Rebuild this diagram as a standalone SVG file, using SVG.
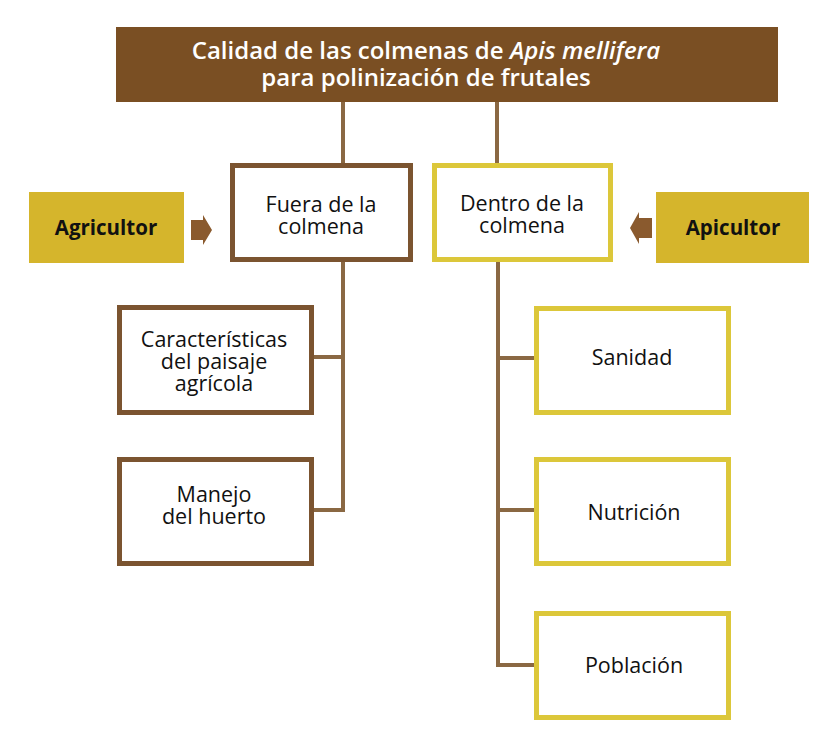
<svg xmlns="http://www.w3.org/2000/svg" width="837" height="749" viewBox="0 0 837 749">
<style>
.t{font-family:"Open Sans","Noto Sans","Liberation Sans",sans-serif;text-anchor:middle;fill:#111;font-size:21.5px;font-weight:500}
.b{font-size:20.5px;font-weight:700}
.bt{font-family:"Open Sans","Noto Sans","Liberation Sans",sans-serif;text-anchor:middle;fill:#fff;font-weight:600;font-size:24px}
.br{fill:#fff;stroke:#7b5430;stroke-width:5}
.yl{fill:#fff;stroke:#dcc73a;stroke-width:5}
.ag{fill:#d5b52c}
.c{fill:none;stroke:#8a6843;stroke-width:4}
.ar{fill:#8a5a2e}
</style>
<rect width="837" height="749" fill="#fff"/>
<g id="connectors">
<line class="c" x1="343" y1="102" x2="343" y2="163"/>
<line class="c" x1="497" y1="102" x2="497" y2="163"/>
<polyline class="c" points="343,262 343,510 313,510"/>
<line class="c" x1="343" y1="357" x2="313" y2="357"/>
<polyline class="c" points="498,262 498,665 534,665"/>
<line class="c" x1="498" y1="358" x2="534" y2="358"/>
<line class="c" x1="498" y1="510" x2="534" y2="510"/>
<polygon class="ar" points="191,220 203,220 203,215 212,230 203,245 203,240 191,240"/>
<polygon class="ar" points="652,218 639,218 639,212 630,228 639,244 639,238 652,238"/>
</g>
<g id="title">
<rect x="116" y="27" width="662" height="75" fill="#7a4f23"/>
<text class="bt" x="426" y="59">Calidad de las colmenas de <tspan font-style="italic">Apis mellifera</tspan><tspan x="426" dy="27">para polinización de frutales</tspan></text>
</g>
<g id="agricultor">
<rect class="ag" x="29" y="192" width="155" height="71"/>
<text class="t b" x="106" y="235">Agricultor</text>
</g>
<g id="apicultor">
<rect class="ag" x="656" y="192" width="153" height="71"/>
<text class="t b" x="733" y="235">Apicultor</text>
</g>
<g id="fuera">
<rect class="br" x="232.5" y="165.5" width="178" height="94"/>
<text class="t" x="321" y="212">Fuera de la<tspan x="321" dy="22">colmena</tspan></text>
</g>
<g id="dentro">
<rect class="yl" x="434.5" y="165.5" width="176" height="94"/>
<text class="t" x="522" y="211">Dentro de la<tspan x="522" dy="22">colmena</tspan></text>
</g>
<g id="caracteristicas">
<rect class="br" x="119.5" y="307.5" width="192" height="105"/>
<text class="t" x="214" y="347">Características<tspan x="214" dy="22">del paisaje</tspan><tspan x="214" dy="22">agrícola</tspan></text>
</g>
<g id="manejo">
<rect class="br" x="119.5" y="459.5" width="192" height="104"/>
<text class="t" x="214" y="502">Manejo<tspan x="214" dy="22">del huerto</tspan></text>
</g>
<g id="sanidad">
<rect class="yl" x="536.5" y="308.5" width="192" height="104"/>
<text class="t" x="632" y="365">Sanidad</text>
</g>
<g id="nutricion">
<rect class="yl" x="536.5" y="459.5" width="192" height="104"/>
<text class="t" x="634" y="520">Nutrición</text>
</g>
<g id="poblacion">
<rect class="yl" x="536.5" y="613.5" width="192" height="104"/>
<text class="t" x="634" y="673">Población</text>
</g>
</svg>
